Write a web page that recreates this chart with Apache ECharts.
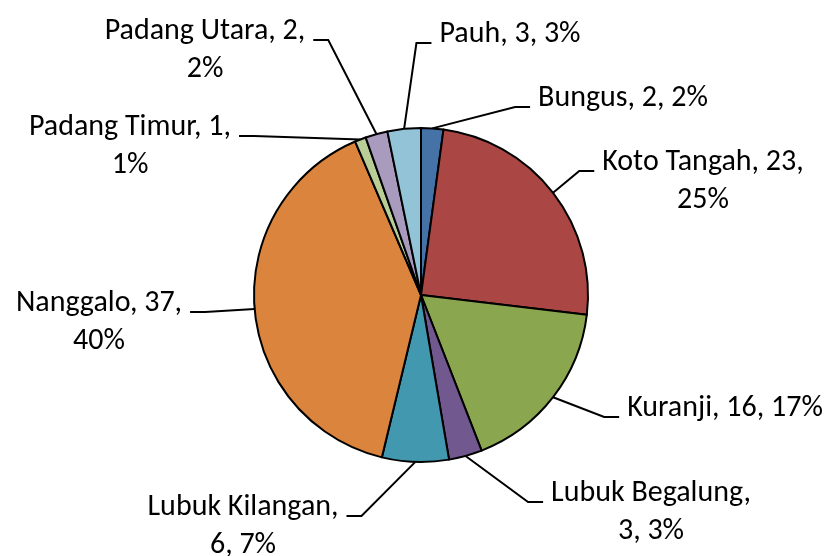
<!DOCTYPE html>
<html>
<head>
<meta charset="utf-8">
<script src="https://cdn.jsdelivr.net/npm/echarts@6/dist/echarts.min.js"></script>
<style>
  html, body { margin: 0; padding: 0; background: #fff; }
  #main { width: 833px; height: 556px; }
</style>
</head>
<body>
<div id="main"></div>
<script>
// data, clockwise from 12 o'clock
const kecamatan = ["Bungus", "Koto Tangah", "Kuranji", "Lubuk Begalung", "Lubuk Kilangan",
  "Nanggalo", "Padang Timur", "Padang Utara", "Pauh"];
const jumlah = [2, 23, 16, 3, 6, 37, 1, 2, 3];
const persen = [2, 25, 17, 3, 7, 40, 1, 2, 3];

// where each label breaks: after the name, after the value, or not at all
const wrap = ["", "value", "", "name", "name", "value", "value", "value", ""];
// label centre x and first-line middle y
const labelAt = [[623, 98], [703, 162], [725, 408], [651, 493], [243, 507],
  [99, 303], [130, 127], [205, 31], [510, 34]];

const colors = ["#4572A7", "#AA4644", "#8AA64E", "#71588F", "#4198AF",
  "#DB843D", "#B9CD96", "#A99BBE", "#93C3D6"];

const lineH = 38;
const pieCenter = [421, 295];

var myChart = echarts.init(document.getElementById("main"), null, { renderer: "canvas" });

var pieData = [];
for (var i = 0; i < kecamatan.length; i++) {
  pieData.push({ name: kecamatan[i], value: jumlah[i] });
}

function labelText(p) {
  var i = p.dataIndex;
  var a = kecamatan[i] + ",";
  var b = jumlah[i] + ",";
  var c = persen[i] + "%";
  if (wrap[i] == "name") return a + "\n" + b + " " + c;
  if (wrap[i] == "value") return a + " " + b + "\n" + c;
  return a + " " + b + " " + c;
}

var option = {
  animation: false,
  color: colors,
  series: [{
    type: "pie",
    center: pieCenter,
    radius: 167,
    startAngle: 90,
    clockwise: true,
    avoidLabelOverlap: false,
    data: pieData,
    itemStyle: { borderColor: "#000", borderWidth: 2 },
    label: {
      show: true,
      position: "outside",
      formatter: labelText,
      fontFamily: "Carlito, Lato, sans-serif",
      fontSize: 30,
      lineHeight: lineH,
      color: "#000"
    },
    labelLine: {
      show: true,
      smooth: false,
      lineStyle: { color: "#000", width: 2 }
    },
    emphasis: { disabled: true },
    labelLayout: function (params) {
      var i = params.dataIndex;
      var cx = labelAt[i][0];
      var top = labelAt[i][1] - lineH / 2;
      var w = params.labelRect.width;
      var ly = labelAt[i][1] + 9;
      var arc = params.labelLinePoints[0];
      var end, bend;
      if (cx > pieCenter[0]) {
        end = [cx - w / 2 - 8, ly];
        bend = [end[0] - 15, ly];
      } else {
        end = [cx + w / 2 + 8, ly];
        bend = [end[0] + 15, ly];
      }
      return {
        x: cx,
        y: top,
        align: "center",
        verticalAlign: "top",
        labelLinePoints: [arc, bend, end]
      };
    }
  }]
};
myChart.setOption(option);
</script>
</body>
</html>
